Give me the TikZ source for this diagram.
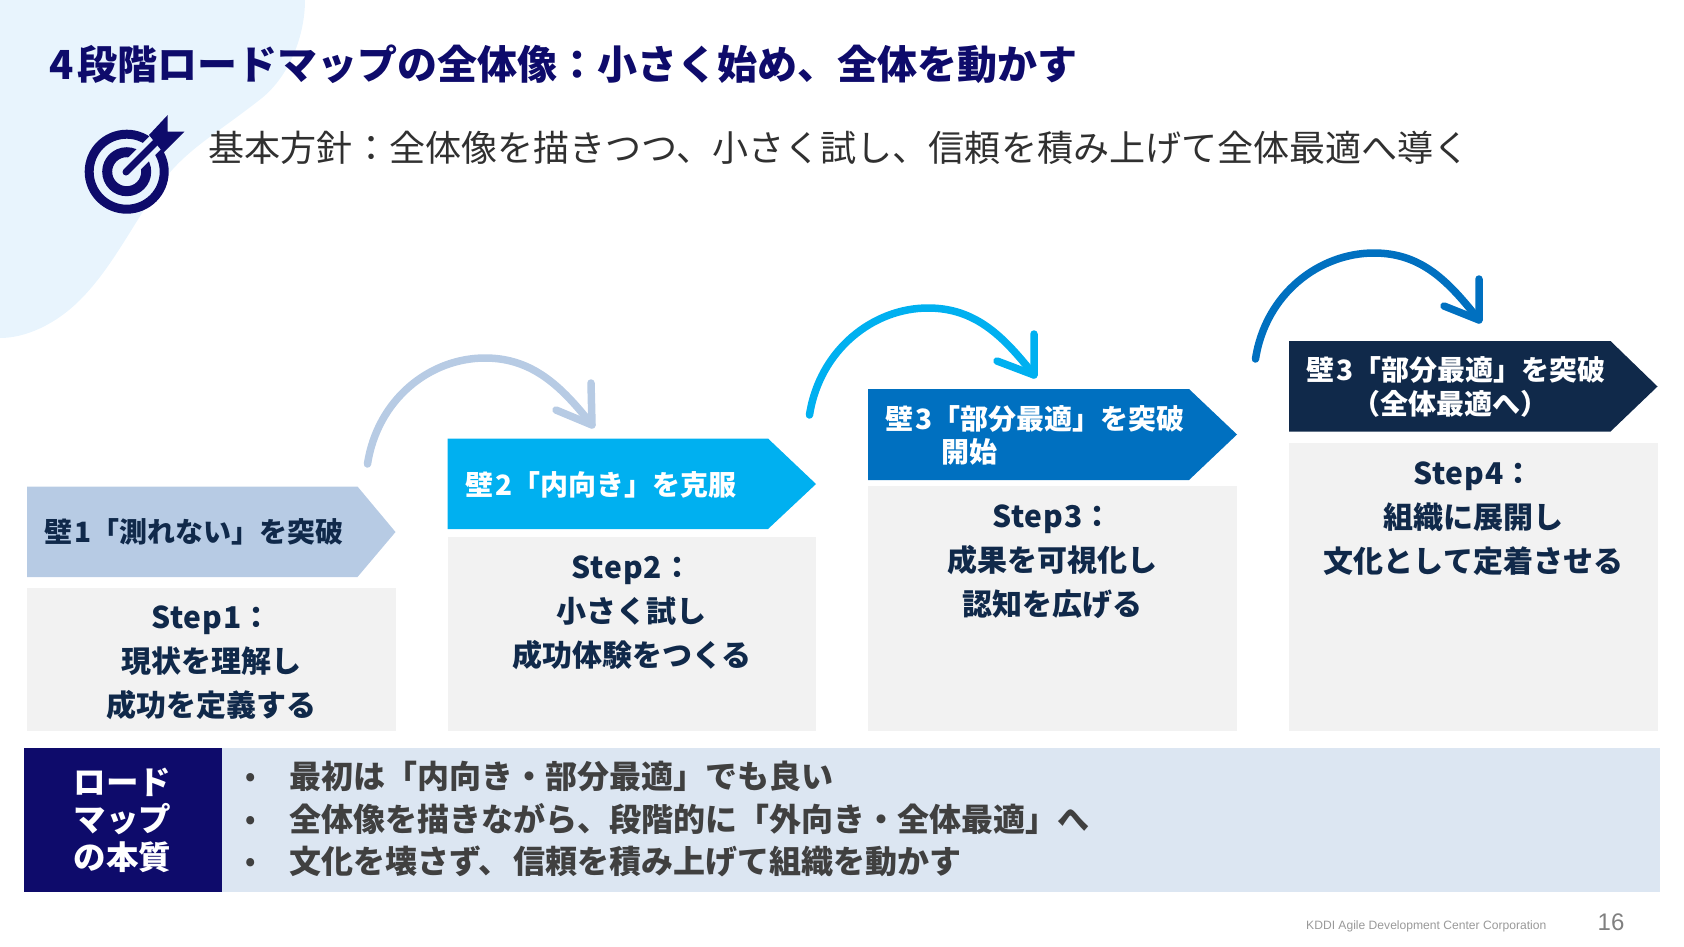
\documentclass[tikz,border=0pt]{standalone}
\usepackage{fontspec}
\usetikzlibrary{calc}
\setmainfont{Noto Sans CJK JP}
\newfontfamily\footfont{Liberation Sans}
\definecolor{navy}{HTML}{0E0B6B}
\definecolor{blob}{HTML}{E8F4FD}
\definecolor{wallA}{HTML}{B7CBE4}
\definecolor{wallB}{HTML}{00B0F0}
\definecolor{wallC}{HTML}{0070C0}
\definecolor{wallD}{HTML}{10294A}
\definecolor{stepfill}{HTML}{F2F2F2}
\definecolor{band}{HTML}{DCE6F2}
\definecolor{bodytext}{HTML}{404040}
\definecolor{policytext}{HTML}{303030}
\tikzset{
  wallbox/.style={inner sep=0pt,anchor=west,align=left,font=\fontsize{28}{33.5}\selectfont\bfseries},
  stepbox/.style={fill=stepfill,inner sep=0pt,anchor=north west,minimum width=368.5pt},
  steptext/.style={inner sep=0pt,anchor=center,align=center,text=wallD,font=\fontsize{30}{44}\selectfont\bfseries},
  hop/.style={line width=7.5pt,line cap=round,line join=round},
  bullet/.style={inner sep=0pt,anchor=west,text=bodytext,font=\fontsize{32}{38}\selectfont\bfseries},
}
\newcommand{\wallshape}[6]{\fill[#1] (#2,#3) -- (#4-#6,#3) -- (#4,#3+45.5) -- (#4-#6,#5) -- (#2,#5) -- cycle;}
\newcommand{\stepname}[1]{{\addfontfeature{LetterSpace=3}#1}}
\begin{document}
\begin{tikzpicture}[x=1pt,y=-1pt]
\useasboundingbox (0,0) rectangle (1684,946);
% background blob
\fill[blob] (0,0) -- (305,0) .. controls (305,35) and (290,75) .. (262,98)
  .. controls (215,135) and (185,150) .. (160,185)
  .. controls (130,230) and (110,270) .. (80,300)
  .. controls (55,325) and (25,338) .. (0,338) -- cycle;
% title
\node[inner sep=0pt,anchor=west,text=navy,font=\fontsize{40}{48}\selectfont\bfseries] (title) at (49,64) {4\hspace{3.5pt}段階ロードマップの全体像：小さく始め、全体を動かす};
\node[inner sep=0pt,anchor=west,text=policytext,font=\fontsize{36.08}{42}\selectfont] (policy) at (208.5,147.5) {基本方針：全体像を描きつつ、小さく試し、信頼を積み上げて全体最適へ導く};
% target icon
\fill[navy,even odd rule] (126.7,171.7) circle (42) (126.7,171.7) circle (33) (126.7,171.7) circle (24.5) (126.7,171.7) circle (14.5);
\draw[blob,line width=17pt] (131,167) -- (160,138);
\draw[navy,line width=7pt,line cap=round] (126,172) -- (155,143);
\fill[navy] (149,135) -- (167.7,115) -- (167.7,131.7) -- (184.3,131.7) -- (163.3,152.7) -- cycle;
% step boxes
\node[stepbox,minimum height=143.7pt] (s1) at (27,587.5) {};
\node[stepbox,minimum height=194pt] (s2) at (447.5,537) {};
\node[stepbox,minimum height=245pt] (s3) at (868,486) {};
\node[stepbox,minimum height=287.7pt] (s4) at (1289,443) {};
\node[steptext] (t1) at ($(s1.north)+(0,75.5)$) {\stepname{Step1}：\\現状を理解し\\成功を定義する};
\node[steptext] (t2) at ($(s2.north)+(0,76)$) {\stepname{Step2}：\\小さく試し\\成功体験をつくる};
\node[steptext] (t3) at ($(s3.north)+(0,76)$) {\stepname{Step3}：\\成果を可視化し\\認知を広げる};
\node[steptext] (t4) at ($(s4.north)+(0,76)$) {\stepname{Step4}：\\組織に展開し\\文化として定着させる};
% wall arrows
\wallshape{wallA}{27}{486.5}{395.5}{577}{38}
\wallshape{wallB}{447.5}{438.5}{816}{529}{48}
\wallshape{wallC}{868}{389}{1237}{480}{48}
\wallshape{wallD}{1289}{341}{1657.5}{431.5}{47}
\node[wallbox,text=wallD] (w1) at (44,532) {壁\hspace{2pt}1「測れない」を突破};
\node[wallbox,text=white] (w2) at (465,485) {壁\hspace{2pt}2「内向き」を克服};
\node[wallbox,text=white] (w3) at (885,435.5) {壁\hspace{2pt}3「部分最適」を突破\\\hspace*{56pt}開始};
\node[wallbox,text=white] (w4) at (1306,387) {壁\hspace{2pt}3「部分最適」を突破\\\hspace*{46pt}（全体最適へ）};
% hops
\coordinate (h1s) at (367.5,464); \coordinate (h1p) at (485,358); \coordinate (h1e) at (592,425);
\coordinate (h1a) at (591,383); \coordinate (h1b) at (556,410);
\coordinate (h2s) at (809.5,415); \coordinate (h2p) at (928,308); \coordinate (h2e) at (1034,375);
\coordinate (h2a) at (1034,334); \coordinate (h2b) at (997,361);
\coordinate (h3s) at (1255.5,359); \coordinate (h3p) at (1374,253); \coordinate (h3e) at (1479,320);
\coordinate (h3a) at (1479,279); \coordinate (h3b) at (1444,306);
\draw[hop,wallA] (h1s) .. controls ($(h1s)+(10,-65)$) and ($(h1p)+(-55,0)$) .. (h1p) .. controls ($(h1p)+(48,0)$) and ($(h1e)+(-30,-38)$) .. (h1e);
\draw[hop,wallA] (h1a) -- (h1e) -- (h1b);
\draw[hop,wallB] (h2s) .. controls ($(h2s)+(10,-65)$) and ($(h2p)+(-55,0)$) .. (h2p) .. controls ($(h2p)+(48,0)$) and ($(h2e)+(-30,-38)$) .. (h2e);
\draw[hop,wallB] (h2a) -- (h2e) -- (h2b);
\draw[hop,wallC] (h3s) .. controls ($(h3s)+(10,-65)$) and ($(h3p)+(-55,0)$) .. (h3p) .. controls ($(h3p)+(48,0)$) and ($(h3e)+(-30,-38)$) .. (h3e);
\draw[hop,wallC] (h3a) -- (h3e) -- (h3b);
% bottom band
\node[fill=band,inner sep=0pt,anchor=north west,minimum width=1438pt,minimum height=143.7pt] (bandR) at (221.5,748) {};
\node[fill=navy,text=white,inner sep=0pt,anchor=north west,minimum width=198pt,minimum height=143.7pt,align=center,font=\fontsize{32.5}{37.5}\selectfont\bfseries] (bandL) at (23.5,748) {ロード\\マップ\\の本質};
\foreach \yy/\ttxt in {776.5/最初は「内向き・部分最適」でも良い,819/全体像を描きながら、段階的に「外向き・全体最適」へ,861.5/文化を壊さず、\hspace{3pt}信頼を積み上げて組織を動かす}{
  \node[bullet,yshift=-3pt,font=\fontsize{26}{30}\selectfont\bfseries] at (245,\yy) {•};
  \node[bullet] at (289,\yy) {\ttxt};
}
% footer
\node[inner sep=0pt,anchor=west,text=gray!80,font=\footfont\fontsize{12.1}{14}\selectfont] (foot) at (1306,926) {KDDI Agile Development Center Corporation};
\node[inner sep=0pt,anchor=center,text=gray,font=\footfont\fontsize{24}{28}\selectfont] (page) at (1611,922) {16};
\end{tikzpicture}
\end{document}
